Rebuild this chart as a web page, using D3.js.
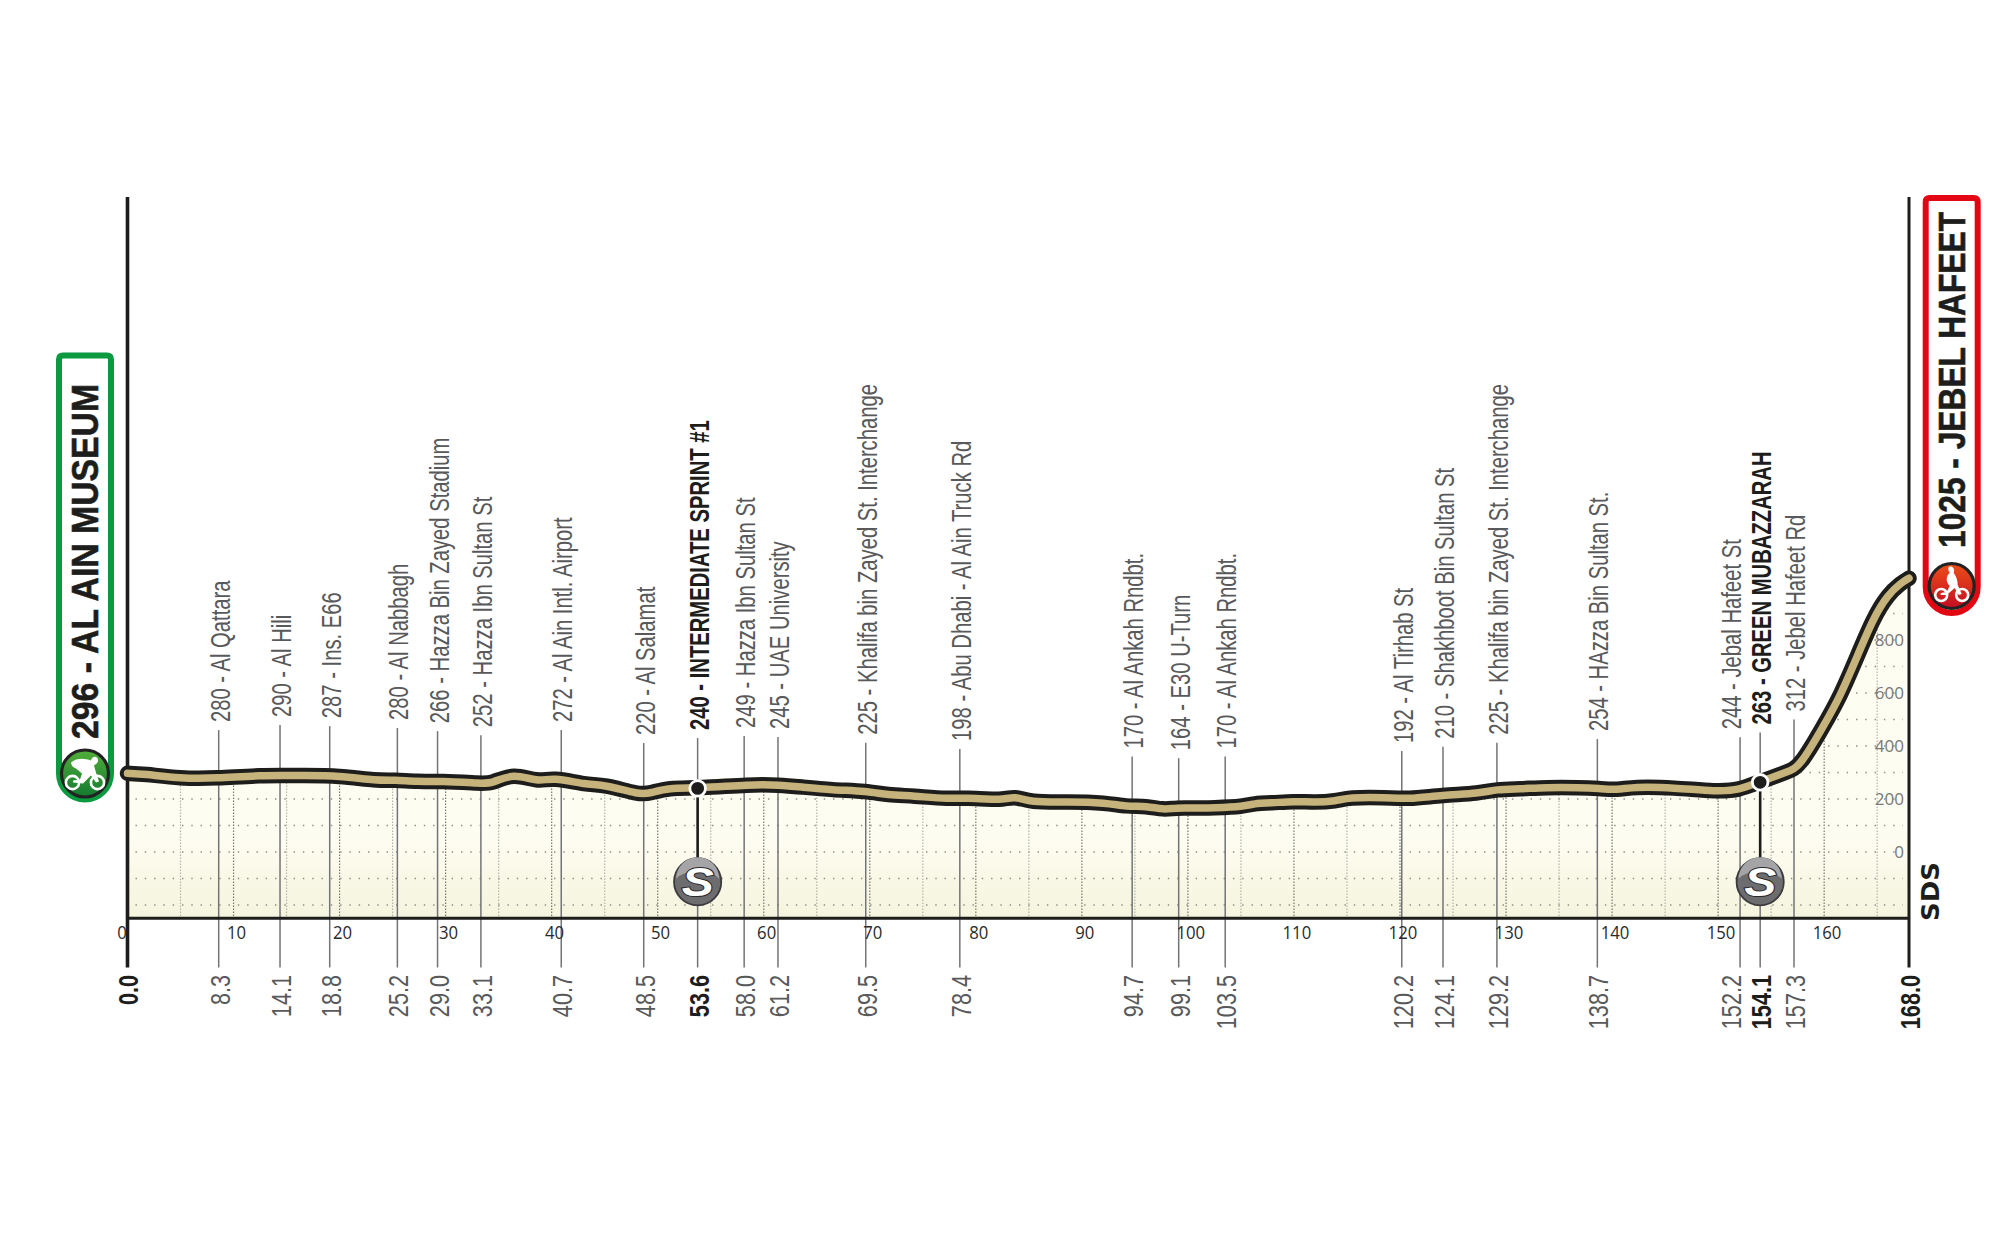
<!DOCTYPE html>
<html><head><meta charset="utf-8">
<script src="https://cdnjs.cloudflare.com/ajax/libs/d3/7.8.5/d3.min.js"></script>
<style>html,body{margin:0;padding:0;background:#fff}svg{display:block}</style>
</head><body><svg id="c" width="2000" height="1250"></svg>
<script>
// profile, km and elevation
const profileKm = [0,1.5,5,8.4,12.5,16.3,20,23.5,25.2,27.3,29.5,33.4,34.3,36.4,38.7,40.1,43.3,44.9,48.3,49.3,51,53.9,58.7,61.5,63.4,66.5,69.7,71.7,74.1,77.3,80.1,82.3,83.7,85.1,88.6,92.3,94.2,96.1,97.7,98.9,100.5,102.4,105.2,106.6,107.7,110,111.9,114,115.1,118.7,120.7,124,127.5,129.1,131.3,133.8,137,138.7,140.5,142,145.8,149.9,152,153.9,156.6,157.7,159.9,161.5,163.1,164.7,166,167.2,168];
const profileElev = [297,295,277,278,290,288,288,269,272,265,268,259,258,298,264,282,253,255,216,222,243,240,255,253,246,234,230,215,212,200,205,194,212,187,190,186,171,174,159,167,165,167,171,186,184,192,187,192,206,206,199,215,221,237,238,244,243,240,234,246,243,228,234,265,303,322,473,586,737,888,970,1014,1033];
// waypoints
const waypointKm = [8.3,14.1,18.8,25.2,29.0,33.1,40.7,48.5,53.6,58.0,61.2,69.5,78.4,94.7,99.1,103.5,120.2,124.1,129.2,138.7,152.2,154.1,157.3];
const waypointKmLabels = ["8.3","14.1","18.8","25.2","29.0","33.1","40.7","48.5","53.6","58.0","61.2","69.5","78.4","94.7","99.1","103.5","120.2","124.1","129.2","138.7","152.2","154.1","157.3"];
const waypointNames = ["280 - Al Qattara","290 - Al Hili","287 - Ins. E66","280 - Al Nabbagh","266 - Hazza Bin Zayed Stadium","252 - Hazza Ibn Sultan St","272 - Al Ain Intl. Airport","220 - Al Salamat","240 - INTERMEDIATE SPRINT #1","249 - Hazza Ibn Sultan St","245 - UAE University","225 - Khalifa bin Zayed St. Interchange","198 - Abu Dhabi - Al Ain Truck Rd","170 - Al Ankah Rndbt.","164 - E30 U-Turn","170 - Al Ankah Rndbt.","192 - Al Tirhab St","210 - Shakhboot Bin Sultan St","225 - Khalifa bin Zayed St. Interchange","254 - HAzza Bin Sultan St.","244 - Jebal Hafeet St","263 - GREEN MUBAZZARAH","312 - Jebel Hafeet Rd"];
const leaderTopElev = [460,479,475,468,456,441,460,411,430,438,434,412,389,360,354,360,381,397,412,426,433,451,500];
const sprintKm = [53.6,154.1];
const sprintElev = [240,263];
const kmTicks = [0,10,20,30,40,50,60,70,80,90,100,110,120,130,140,150,160];
const elevTicks = [0,200,400,600,800];
const startLabel = "296 - AL AIN MUSEUM";
const finishLabel = "1025 - JEBEL HAFEET";

const svg = d3.select("#c");
const x = d3.scaleLinear().domain([0,168]).range([127.5,1909]);
const y = d3.scaleLinear().domain([0,800]).range([852,640]);
const leaderX = d3.scaleLinear().domain([8.3,157.3]).range([218.7,1794]);
const baseY = y(-250), axisBottom = 967.5;
const INK = "#1d1d1b", GREY = "#58595b";
const NARROW = "'Liberation Sans Narrow','Liberation Sans',sans-serif";
const pts = profileKm.map((k,i)=>[k,profileElev[i]]);

const defs = svg.append("defs");
const bg = defs.append("linearGradient").attr("id","bg").attr("x1",0).attr("x2",0).attr("y1",0).attr("y2",1);
bg.append("stop").attr("offset","0.75").attr("stop-color","#fefdf2");
bg.append("stop").attr("offset","1").attr("stop-color","#f5f4de");
const gr = defs.append("linearGradient").attr("id","gGreen").attr("x1",0).attr("x2",0).attr("y1",0).attr("y2",1);
gr.append("stop").attr("offset","0").attr("stop-color","#52ad3a");
gr.append("stop").attr("offset","1").attr("stop-color","#137a30");
const rd = defs.append("linearGradient").attr("id","gRed").attr("x1",0).attr("x2",0).attr("y1",0).attr("y2",1);
rd.append("stop").attr("offset","0").attr("stop-color","#ee4e18");
rd.append("stop").attr("offset","1").attr("stop-color","#c30d22");

const curve = d3.curveBasis;
const area = d3.area().x(d=>x(d[0])).y0(baseY).y1(d=>y(d[1])).curve(curve);
const line = d3.line().x(d=>x(d[0])).y(d=>y(d[1])).curve(curve);
defs.append("clipPath").attr("id","under").append("path").attr("d",area(pts));

svg.append("path").attr("d",area(pts)).attr("fill","url(#bg)");

// dotted grid
const grid = svg.append("g").attr("clip-path","url(#under)").attr("fill","none");
grid.selectAll("line.h").data(d3.range(-200,1000,100)).join("line").attr("class","h")
  .attr("x1",x(0)+8).attr("x2",x(168)-6).attr("y1",d=>y(d)).attr("y2",d=>y(d))
  .attr("stroke","#8d8d84").attr("stroke-width",1.3).attr("stroke-dasharray","1.4 7.9");
grid.selectAll("line.v").data(d3.range(5,168,5)).join("line").attr("class","v")
  .attr("x1",d=>x(d)).attr("x2",d=>x(d)).attr("y1",y(1100)).attr("y2",baseY)
  .attr("stroke",d=>d%10===0?"#77776f":"#b4b4aa").attr("stroke-width",1.2).attr("stroke-dasharray","1.5 1.5");

// waypoint leaders
svg.append("g").selectAll("line").data(waypointKm).join("line")
  .attr("x1",d=>leaderX(d)).attr("x2",d=>leaderX(d))
  .attr("y1",(d,i)=>y(leaderTopElev[i])).attr("y2",axisBottom)
  .attr("stroke","#737476").attr("stroke-width",1.5);

// frame
svg.append("line").attr("x1",x(0)).attr("x2",x(0)).attr("y1",197).attr("y2",axisBottom).attr("stroke",INK).attr("stroke-width",3.6);
svg.append("line").attr("x1",x(168)).attr("x2",x(168)).attr("y1",197).attr("y2",axisBottom).attr("stroke",INK).attr("stroke-width",3);
svg.append("line").attr("x1",x(0)).attr("x2",x(168)).attr("y1",baseY).attr("y2",baseY).attr("stroke",INK).attr("stroke-width",3.2);

// km axis
const gx = svg.append("g").attr("transform",`translate(0,${baseY})`)
  .call(d3.axisBottom(x).tickValues(kmTicks).tickSize(0).tickFormat(d3.format("d")));
gx.select(".domain").remove();
gx.selectAll("text").attr("y",0).attr("dy",0)
  .attr("transform",d=>`translate(${d===0?-6:2.4},21) scale(.88,1)`)
  .attr("font-family","'Open Sans',sans-serif").attr("font-size",19).attr("fill","#2a2a2a").attr("text-anchor","middle");

// elevation axis
const gy = svg.append("g").attr("transform",`translate(${x(168)-5},0)`)
  .call(d3.axisLeft(y).tickValues(elevTicks).tickSize(0).tickPadding(0).tickFormat(d3.format("d")));
gy.select(".domain").remove();
gy.selectAll("text").attr("font-family","'Open Sans',sans-serif").attr("font-size",17).attr("fill","#77787a");

// profile
svg.append("path").attr("d",line(pts)).attr("fill","none").attr("stroke",INK).attr("stroke-width",15.5).attr("stroke-linecap","round").attr("stroke-linejoin","round");
svg.append("path").attr("d",line(pts)).attr("fill","none").attr("stroke","#c6b27b").attr("stroke-width",7.5).attr("stroke-linecap","round").attr("stroke-linejoin","round");

// sprint stems, dots, badges
const badgeY = 881.7;
const sprint = svg.append("g").selectAll("g").data(sprintKm).join("g").attr("transform",d=>`translate(${leaderX(d)},0)`);
sprint.append("line").attr("y1",(d,i)=>y(sprintElev[i])).attr("y2",badgeY).attr("stroke",INK).attr("stroke-width",2.6);
sprint.append("circle").attr("cy",(d,i)=>y(sprintElev[i])).attr("r",7.8).attr("fill",INK).attr("stroke","#fff").attr("stroke-width",2.8);
sprint.append("circle").attr("cy",badgeY).attr("r",23.6).attr("fill","#6d6d70").attr("stroke","#3b3b3d").attr("stroke-width",1.8);
sprint.append("path").attr("d",`M-21.5,${badgeY-3}A21.5,21.5 0 0 1 21.5,${badgeY-3}A24,13 0 0 0 -21.5,${badgeY-3}Z`).attr("fill","#a5a5a8");
sprint.append("text").text("S").attr("transform",`translate(0,${badgeY+14}) scale(1.2,1)`).attr("text-anchor","middle")
  .attr("font-family","'Liberation Sans',sans-serif").attr("font-weight",700).attr("font-style","italic").attr("font-size",40)
  .attr("fill","#fff").attr("stroke","#2a2a2c").attr("stroke-width",2).attr("paint-order","stroke");

// rotated texts
const FS = 28.5;
function rotText(g,str,px,py,anchor,bold,kx){
  return g.append("text").text(str).attr("transform",`translate(${px},${py}) rotate(-90) scale(${kx},1)`)
   .attr("text-anchor",anchor).attr("font-family",NARROW).attr("font-size",FS)
   .attr("font-weight",bold?700:400).attr("fill",bold?INK:GREY);
}
const labels = svg.append("g");
const boldSet = new Set([53.6,154.1]);
waypointKm.forEach((k,i)=>{
  const b = boldSet.has(k);
  // the 152.2 label sits to the left of its leader, away from its bold neighbour
  const off = k===152.2 ? 0.8 : 11;
  rotText(labels,waypointNames[i],leaderX(k)+off,y(leaderTopElev[i])-8,"start",b,0.71);
  rotText(labels,waypointKmLabels[i],leaderX(k)+off,975,"end",b,0.76);
});
rotText(labels,"0.0",x(0)+10,975,"end",true,0.76);
rotText(labels,"168.0",x(168)+10.5,975,"end",true,0.76);

// start / finish pills
function pill(x0,y0,w,h,color){
  const s=6, r=(w-s)/2, a=x0+s/2, b=y0+s/2, W=w-s, H=h-s;
  svg.append("path").attr("d",`M${a+4},${b}H${a+W-4}Q${a+W},${b} ${a+W},${b+4}V${b+H-r}A${r},${r} 0 0 1 ${a},${b+H-r}V${b+4}Q${a},${b} ${a+4},${b}Z`)
    .attr("fill","#fff").attr("stroke",color).attr("stroke-width",s);
}
function bike(cx,cy,fill,tall){
  const g=svg.append("g").attr("transform",`translate(${cx},${cy})`);
  g.append("circle").attr("r",tall?22.5:23.5).attr("fill",fill).attr("stroke","#222").attr("stroke-width",3.2);
  const dx=tall?10.5:12.5;
  [-dx,dx].forEach(d=>g.append("circle").attr("cx",d).attr("cy",9).attr("r",tall?6:6.6).attr("fill","none").attr("stroke","#fff").attr("stroke-width",2.6));
  g.append("path").attr("fill","#fff").attr("d",tall
    ? "M-3,-19C2,-21 3,-16 2,-13C5,-9 6,-5 6,-1L10,8L7,9L3,2L-5,9L-11,9L-11,7L-5,6L-2,0C-6,-4 -6,-10 -2,-13C-3,-15 -4,-17 -3,-19Z"
    : "M-14,-11C-8,-16 0,-15 6,-13C7,-18 13,-18 13,-13C13,-10 10,-9 9,-8L11,-1L14,8L11,9L6,2L-2,10L-12,9L-12,7L-5,6L-3,0L-9,-5C-12,-6 -14,-8 -14,-11Z");
  return g;
}
pill(56,352.5,58,450,"#0b9a40");
bike(85,773.5,"url(#gGreen)",false);
pill(1922.7,195,58,421,"#e30613");
bike(1951.7,586,"url(#gRed)",true);
function pillText(str,px,yBottom,len){
  svg.append("text").text(str).attr("x",0).attr("y",0).attr("transform",`translate(${px},${yBottom}) rotate(-90)`)
   .attr("font-family","'Liberation Sans',sans-serif").attr("font-weight",700).attr("font-size",37).attr("fill",INK)
   .attr("stroke",INK).attr("stroke-width",0.6)
   .attr("textLength",len).attr("lengthAdjust","spacingAndGlyphs");
}
pillText(startLabel,98.3,739,355);
pillText(finishLabel,1965,548,336);

// SDS mark
svg.append("text").text("SDS").attr("transform","translate(1939,921) rotate(-90)")
  .attr("font-family","'DejaVu Sans',sans-serif").attr("font-weight",700).attr("font-size",24).attr("fill",INK)
  .attr("textLength",59).attr("lengthAdjust","spacingAndGlyphs");
</script></body></html>
